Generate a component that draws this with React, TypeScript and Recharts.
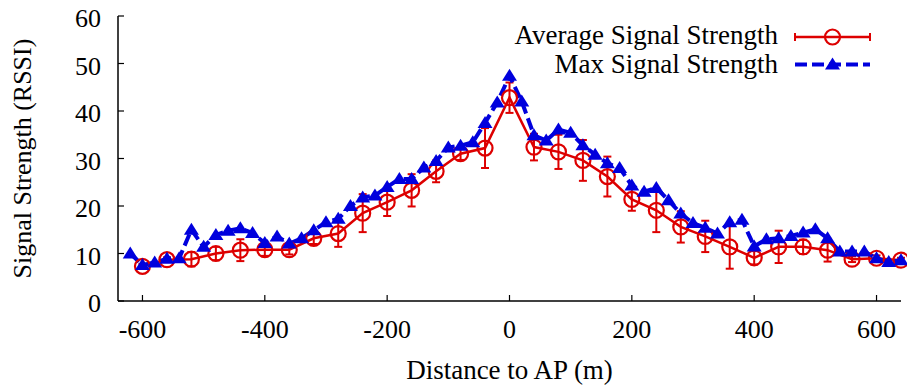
import React from 'react';
import { LineChart, Line, XAxis, YAxis, ErrorBar, Legend } from 'recharts';

// ---- data ----
const avgDistances = [-600, -560, -520, -480, -440, -400, -360, -320, -280, -240, -200, -160, -120, -80, -40, 0, 40, 80, 120, 160, 200, 240, 280, 320, 360, 400, 440, 480, 520, 560, 600, 640];
const avgValues = [7.3, 8.7, 8.8, 10.0, 10.7, 10.8, 10.8, 13.2, 14.2, 18.5, 20.8, 23.3, 27.3, 31.0, 32.2, 42.8, 32.4, 31.4, 29.6, 26.2, 21.4, 19.1, 15.6, 13.6, 11.4, 9.1, 11.4, 11.4, 10.7, 8.8, 9.0, 8.6];
const avgErrors = [0.5, 0.5, 1.5, 1.4, 2.3, 1.3, 1.0, 1.2, 2.8, 4.0, 2.9, 3.4, 2.3, 1.3, 4.2, 3.2, 2.8, 3.6, 4.3, 4.2, 2.4, 4.6, 3.3, 3.3, 4.6, 1.4, 3.4, 1.5, 2.4, 0.6, 0.6, 0.5];

const maxDistances = [-620, -600, -580, -560, -540, -520, -500, -480, -460, -440, -420, -400, -380, -360, -340, -320, -300, -280, -260, -240, -220, -200, -180, -160, -140, -120, -100, -80, -60, -40, -20, 0, 20, 40, 60, 80, 100, 120, 140, 160, 180, 200, 220, 240, 260, 280, 300, 320, 340, 360, 380, 400, 420, 440, 460, 480, 500, 520, 540, 560, 580, 600, 620, 640];
const maxValues = [10.0, 7.6, 8.1, 8.9, 9.0, 15.0, 11.4, 13.9, 14.8, 15.3, 14.3, 12.2, 13.6, 12.1, 13.2, 14.9, 16.6, 17.3, 20.0, 21.8, 22.2, 24.0, 25.7, 25.7, 28.1, 29.5, 32.3, 32.7, 33.4, 37.5, 41.8, 47.4, 42.0, 34.9, 33.8, 36.1, 35.4, 32.8, 30.8, 29.0, 28.0, 24.3, 23.0, 23.8, 21.2, 18.4, 16.4, 15.4, 14.2, 16.6, 17.1, 11.5, 13.0, 13.2, 13.7, 14.4, 15.1, 13.2, 10.4, 10.4, 10.4, 9.0, 8.2, 8.6];

const xTicks = [-600, -400, -200, 0, 200, 400, 600];
const yTicks = [0, 10, 20, 30, 40, 50, 60];
const xDomain = [-640, 640];
const yDomain = [0, 60];
const seriesNames = ['Average Signal Strength', 'Max Signal Strength'];
const xTitle = 'Distance to AP (m)';
const yTitle = 'Signal Strength (RSSI)';

const avgData = avgDistances.map((x, i) => ({ x, y: avgValues[i], err: avgErrors[i] }));
const maxData = maxDistances.map((x, i) => ({ x, y: maxValues[i] }));

// ---- styles ----
const RED = '#dd0000';
const BLUE = '#0000dd';
const FONT = 'Liberation Serif, DejaVu Serif, Times New Roman, serif';
const TICK_LEN = 6;
const txt = (size: number): React.CSSProperties => ({ fontFamily: FONT, fontSize: size });

const BottomTick = (props: any) => {
  const { x, y, payload } = props;
  return (
    <g>
      <line x1={x} y1={y} x2={x} y2={y - TICK_LEN} stroke="#000" strokeWidth={1.2} />
      <text x={x} y={y + 37} textAnchor="middle" style={txt(26)} fill="#000">
        {String(payload.value)}
      </text>
    </g>
  );
};

const TopTick = (props: any) => {
  const { x, y } = props;
  return <line x1={x} y1={y} x2={x} y2={y + TICK_LEN} stroke="#000" strokeWidth={1.2} />;
};

const LeftTick = (props: any) => {
  const { x, y, payload } = props;
  return (
    <g>
      <line x1={x} y1={y} x2={x + TICK_LEN} y2={y} stroke="#000" strokeWidth={1.2} />
      <text x={x - 17} y={y + 11} textAnchor="end" style={txt(26)} fill="#000">
        {String(payload.value)}
      </text>
    </g>
  );
};

const RightTick = (props: any) => {
  const { x, y } = props;
  return <line x1={x} y1={y} x2={x - TICK_LEN} y2={y} stroke="#000" strokeWidth={1.2} />;
};

const tri = (cx: number, cy: number) => `${cx},${cy - 7} ${cx - 7.5},${cy + 5} ${cx + 7.5},${cy + 5}`;

const TriangleDot = (props: any) => {
  const { cx, cy, index } = props;
  if (cx == null || cy == null) return <g key={`t-${index}`} />;
  return <polygon key={`t-${index}`} points={tri(cx, cy)} fill={BLUE} />;
};

const LegendContent = () => (
  <svg width={907} height={90} style={{ display: 'block' }}>
    <text x={778} y={44} textAnchor="end" style={txt(27)} fill="#000">{seriesNames[0]}</text>
    <line x1={795} y1={37} x2={870} y2={37} stroke={RED} strokeWidth={2.5} />
    <line x1={795} y1={33} x2={795} y2={41} stroke={RED} strokeWidth={2} />
    <line x1={870} y1={33} x2={870} y2={41} stroke={RED} strokeWidth={2} />
    <circle cx={832.5} cy={37} r={7.5} stroke={RED} strokeWidth={2.2} fill="none" />
    <text x={778} y={73} textAnchor="end" style={txt(27)} fill="#000">{seriesNames[1]}</text>
    <line x1={795} y1={64.5} x2={870} y2={64.5} stroke={BLUE} strokeWidth={4} strokeDasharray="12 5" />
    <polygon points={tri(832.5, 64.5)} fill={BLUE} />
  </svg>
);

export default function App() {
  return (
    <div style={{ position: 'absolute', left: 0, top: 0, width: 907, height: 390, background: '#fff', fontFamily: FONT }}>
      <LineChart width={907} height={390} margin={{ top: 16, right: 6, bottom: 0, left: 0 }} style={{ fontFamily: FONT }}>
        <XAxis
          xAxisId="bottom"
          dataKey="x"
          type="number"
          domain={xDomain}
          ticks={xTicks}
          height={89}
          tickSize={0}
          tickMargin={0}
          tickLine={false}
          tick={<BottomTick />}
          axisLine={{ stroke: '#000', strokeWidth: 1.5 }}
          label={({ viewBox }: any) => (
            <text x={viewBox.x + viewBox.width / 2} y={viewBox.y + 78} textAnchor="middle" style={txt(27)} fill="#000">
              {xTitle}
            </text>
          )}
        />
        <XAxis
          xAxisId="top"
          orientation="top"
          dataKey="x"
          type="number"
          domain={xDomain}
          ticks={xTicks}
          height={0}
          tickSize={0}
          tickMargin={0}
          tickLine={false}
          tick={<TopTick />}
          axisLine={{ stroke: '#000', strokeWidth: 1.5 }}
        />
        <YAxis
          yAxisId="left"
          type="number"
          domain={yDomain}
          ticks={yTicks}
          width={118}
          tickSize={0}
          tickMargin={0}
          tickLine={false}
          tick={<LeftTick />}
          axisLine={{ stroke: '#000', strokeWidth: 1.5 }}
          label={({ viewBox }: any) => {
            const cx = 31;
            const cy = viewBox.y + viewBox.height / 2;
            return (
              <text x={cx} y={cy} transform={`rotate(-90, ${cx}, ${cy})`} textAnchor="middle" style={txt(26)} fill="#000">
                {yTitle}
              </text>
            );
          }}
        />
        <YAxis
          yAxisId="right"
          orientation="right"
          type="number"
          domain={yDomain}
          ticks={yTicks}
          width={0}
          tickSize={0}
          tickMargin={0}
          tickLine={false}
          tick={<RightTick />}
          axisLine={{ stroke: '#000', strokeWidth: 1.5 }}
        />
        <Legend
          layout="vertical"
          align="center"
          verticalAlign="middle"
          content={<LegendContent />}
          wrapperStyle={{ position: 'absolute', left: 0, top: 0, width: 907, height: 90 }}
        />
        <Line
          xAxisId="bottom"
          yAxisId="left"
          data={avgData}
          dataKey="y"
          name={seriesNames[0]}
          stroke={RED}
          strokeWidth={2.5}
          dot={{ r: 7.5, stroke: RED, strokeWidth: 2.2, fill: 'none' }}
          activeDot={false}
          isAnimationActive={false}
        >
          <ErrorBar dataKey="err" direction="y" width={4} stroke={RED} strokeWidth={2} isAnimationActive={false} />
        </Line>
        <Line
          xAxisId="bottom"
          yAxisId="left"
          data={maxData}
          dataKey="y"
          name={seriesNames[1]}
          stroke={BLUE}
          strokeWidth={4}
          strokeDasharray="12 5"
          dot={TriangleDot}
          activeDot={false}
          isAnimationActive={false}
        />
      </LineChart>
    </div>
  );
}
